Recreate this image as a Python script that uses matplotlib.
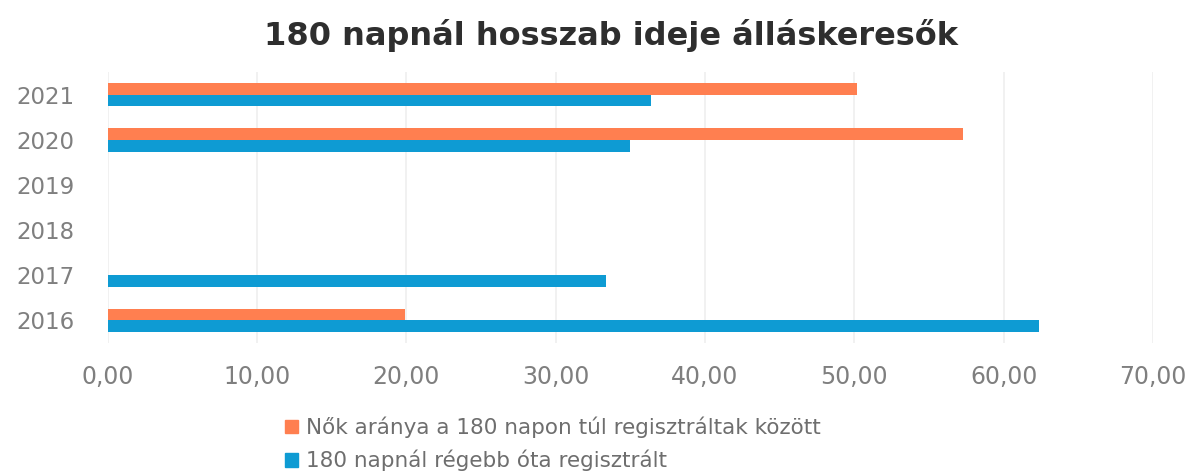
import matplotlib
matplotlib.use("Agg")
import matplotlib.pyplot as plt
from matplotlib.patches import Patch
import numpy as np

years = ["2016", "2017", "2018", "2019", "2020", "2021"]
nok_aranya = [19.9, 0.0, 0.0, 0.0, 57.3, 50.2]
regebb_ota = [62.4, 33.4, 0.0, 0.0, 35.0, 36.4]
series_names = ["Nők aránya a 180 napon túl regisztráltak között",
                "180 napnál régebb óta regisztrált"]
x_ticks = [0, 10, 20, 30, 40, 50, 60, 70]
x_tick_labels = ["0,00", "10,00", "20,00", "30,00", "40,00", "50,00", "60,00", "70,00"]
title = "180 napnál hosszab ideje álláskeresők"

orange = "#FF7F50"
blue = "#0E9BD3"
gray = "#7F7F7F"

plt.rcParams['font.family'] = ['DejaVu Sans']

fig = plt.figure(figsize=(11.96, 4.75), dpi=100)
ax = fig.add_axes([0.090, 0.278, 0.874, 0.57])

y = np.arange(len(years))
h = 0.26
ax.barh(y + h / 2, nok_aranya, height=h, color=orange, zorder=3)
ax.barh(y - h / 2, regebb_ota, height=h, color=blue, zorder=3)

ax.set_xlim(0, 70)
ax.set_ylim(-0.5, len(years) - 0.5)
ax.set_xticks(x_ticks)
ax.set_xticklabels(x_tick_labels)
ax.set_yticks(y)
ax.set_yticklabels(years)
ax.tick_params(axis='both', length=0, colors=gray)
ax.tick_params(axis='x', pad=16, labelsize=17)
ax.tick_params(axis='y', pad=24, labelsize=16.5)
for s in ax.spines.values():
    s.set_visible(False)
ax.grid(axis='x', color='#EFEFEF', linewidth=1.2, zorder=0)

fig.text(0.511, 0.925, title, ha='center', va='center', fontsize=23,
         fontweight='bold', color='#2E2E2E')

handles = [Patch(color=orange), Patch(color=blue)]
fig.legend(handles, series_names, loc='upper left',
           bbox_to_anchor=(0.238, 0.123), frameon=False, fontsize=15.5,
           labelcolor='#6E6E6E', handlelength=0.6, handleheight=0.6,
           handletextpad=0.4, labelspacing=0.55, borderaxespad=0,
           borderpad=0)

fig.savefig("out.png", dpi=100, facecolor='white')
